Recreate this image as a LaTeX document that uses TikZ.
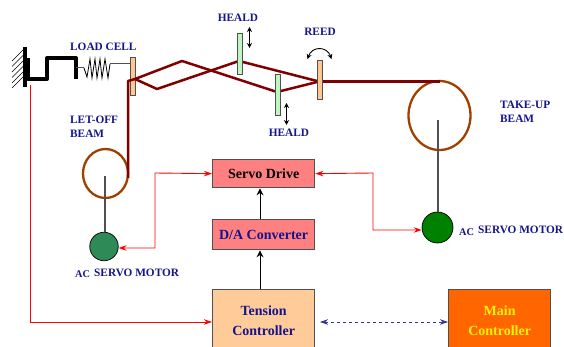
\documentclass[tikz,border=0pt]{standalone}
\usepackage{fontspec}
\setmainfont{Liberation Serif}
\usetikzlibrary{arrows.meta,calc,shapes.geometric}
\definecolor{navytxt}{HTML}{14148C}
\definecolor{warp}{HTML}{800000}
\definecolor{beamc}{HTML}{A04000}
\definecolor{boxred}{HTML}{FF8080}
\definecolor{boxtan}{HTML}{FFCC99}
\definecolor{boxor}{HTML}{FF6600}
\definecolor{edgec}{HTML}{505050}
\definecolor{healdc}{HTML}{BFF5BF}
\definecolor{reedc}{HTML}{FFC890}
\definecolor{dashc}{HTML}{333399}
\tikzset{
  x=1pt,y=-1pt,
  lab/.style={font=\bfseries\fontsize{11.3}{14.5}\selectfont,text=navytxt,inner sep=0pt,align=left},
  smallac/.style={font=\bfseries\fontsize{10.3}{12}\selectfont,text=navytxt,inner sep=0pt},
  ctrl/.style={draw=edgec,line width=1.3pt,minimum width=102pt,inner sep=0pt,align=center,font=\bfseries\fontsize{14}{19.5}\selectfont},
  post/.style={draw=edgec,line width=1pt,minimum width=5pt,inner sep=0pt},
  warpline/.style={draw=warp,line width=2.5pt,line join=round},
  shaft/.style={draw=edgec,line width=2pt},
  redarrow/.style={draw=red,line width=0.9pt,{Stealth[length=8pt,width=5.5pt]}-{Stealth[length=8pt,width=5.5pt]}},
  redone/.style={draw=red,line width=0.9pt,-{Stealth[length=8pt,width=5.5pt]}},
  blackarrow/.style={draw=black,line width=0.9pt,-{Stealth[length=7pt,width=7pt]}},
  dbl/.style={draw=black,line width=0.9pt,{Stealth[length=5pt,width=5pt]}-{Stealth[length=5pt,width=5pt]}},
  motor/.style={circle,draw=black,line width=0.7pt,inner sep=0pt},
  beam/.style={ellipse,draw=beamc,line width=2.3pt,inner sep=0pt}
}
\begin{document}
\begin{tikzpicture}
\path[use as bounding box] (0,0) rectangle (564,347);
\clip (0,0) rectangle (564,347);
\fill[white] (0,0) rectangle (564,347);

% control boxes
\node[ctrl,fill=boxred,minimum height=28pt,anchor=north west] (servo) at (212,159) {Servo Drive};
\node[ctrl,fill=boxred,minimum height=30pt,anchor=north west,text=navytxt] (da) at (212,219) {D/A Converter};
\node[ctrl,fill=boxtan,minimum height=62pt,anchor=north west,text=navytxt] (tension) at (212,289) {Tension\\Controller};
\node[ctrl,fill=boxor,minimum height=62pt,anchor=north west,text=yellow] (main) at (448,289) {Main\\Controller};

% beams and motors
\node[beam,minimum width=45pt,minimum height=49pt] (letoff) at (105.5,173.5) {};
\node[beam,minimum width=62pt,minimum height=69pt] (takeup) at (439.5,115.5) {};
\node[motor,fill={rgb,255:red,46;green,139;blue,87},minimum size=28.5pt] (m1) at (104,246.5) {};
\node[motor,fill={rgb,255:red,0;green,128;blue,0},minimum size=31pt] (m2) at (437.5,227.5) {};
\coordinate (s1) at (105,176);
\coordinate (s2) at (438,120);
\draw[shaft] (s1) -- (s1 |- m1.north);
\draw[shaft] (s2) -- (s2 |- m2.north);

% wall
\coordinate (walltop) at (25,47);
\coordinate (wallbot) at (25,87);
\foreach \yy in {48,53.5,59,64.5,70,75}{
  \draw[black,line width=0.7pt] (25,\yy) -- (12,\yy+13);
}
\draw[black,line width=3.8pt] (walltop) -- (wallbot);

% load cell
\draw[black,line width=4pt,line join=round]
  (28,58) -- (28,79) -- (47,79) -- (47,58) -- (76,58) -- (76,79);
\node[post,fill=reedc,minimum height=38pt] (cell) at (132.5,77) {};
\coordinate (sp1) at (84,68);
\coordinate (sp2) at (110,64);
\draw[edgec,line width=1pt] (76,68) -- (sp1);
\draw[edgec,line width=1pt] (sp2) -- (sp2 -| cell.west);
\draw[black,line width=0.8pt] (sp1) -- (87,77) -- (90,59) -- (92,78) -- (95,59) -- (97,78) -- (100,59) -- (102,78) -- (105,59) -- (108,78) -- (sp2);

% warp
\coordinate (w1) at (135,79);
\coordinate (wu) at (182,61);
\coordinate (wl) at (157,89);
\coordinate (hu) at (239,61);
\coordinate (hl) at (277,92);
\coordinate (rd) at (319,81.5);
\draw[warpline] (128,178) -- (128,81) -- (w1);
\draw[warpline] (w1) -- (wu) -- (hl) -- (rd);
\draw[warpline] (w1) -- (wl) -- (hu) -- (rd);
\draw[warpline] (rd) -- (rd -| takeup.north);

% heald and reed
\node[post,fill=healdc,minimum height=41pt] (h1) at (239.5,54.5) {};
\node[post,fill=healdc,minimum height=41pt] (h2) at (277.5,95.5) {};
\node[post,fill=reedc,minimum height=39pt] (reed) at (319.5,80.5) {};

\coordinate (a1) at (249.5,27); \coordinate (a2) at (249.5,48);
\coordinate (a3) at (286.5,103); \coordinate (a4) at (286.5,125);
\draw[dbl] (a1) -- (a2);
\draw[dbl] (a3) -- (a4);
\coordinate (c1) at (307.5,59); \coordinate (c2) at (331.5,59);
\draw[dbl] (c1) .. controls (312,46) and (327,46) .. (c2);

% connectors
\draw[blackarrow] (da.north -| 260,0) -- (servo.south -| 260,0);
\draw[blackarrow] (tension.north -| 260,0) -- (da.south -| 260,0);
\draw[redarrow] (servo.west) -- (155,173) -- (155,248) -- (m1.east |- 0,248);
\draw[redarrow] (servo.east) -- (373,173) -- (373,230) -- (m2.west |- 0,230);
\coordinate (wallred) at (30,85);
\draw[redone] (wallred) -- (30,322) -- (tension.west |- 0,322);
\draw[dashc,line width=0.9pt,dashed,{Stealth[length=8pt,width=5.5pt]}-{Stealth[length=8pt,width=5.5pt]}] (320,322) -- (main.west |- 0,322);

% labels
\node[lab,anchor=west] (l1) at (70,47) {LOAD CELL};
\node[lab,anchor=north west] (l2) at (70,115.5) {LET-OFF\\BEAM};
\node[lab] (l3) at (238,18) {HEALD};
\node[lab] (l4) at (289,133) {HEALD};
\node[lab] (l5) at (320,32) {REED};
\node[lab,anchor=north west] (l6) at (500,100.5) {TAKE-UP\\BEAM};
\node[smallac,anchor=west] (l7) at (75,274.5) {AC};
\node[lab,anchor=west] (l8) at (94,273) {SERVO MOTOR};
\node[smallac,anchor=west] (l9) at (459,232) {AC};
\node[lab,anchor=west] (l10) at (478,230) {SERVO MOTOR};
\end{tikzpicture}
\end{document}
